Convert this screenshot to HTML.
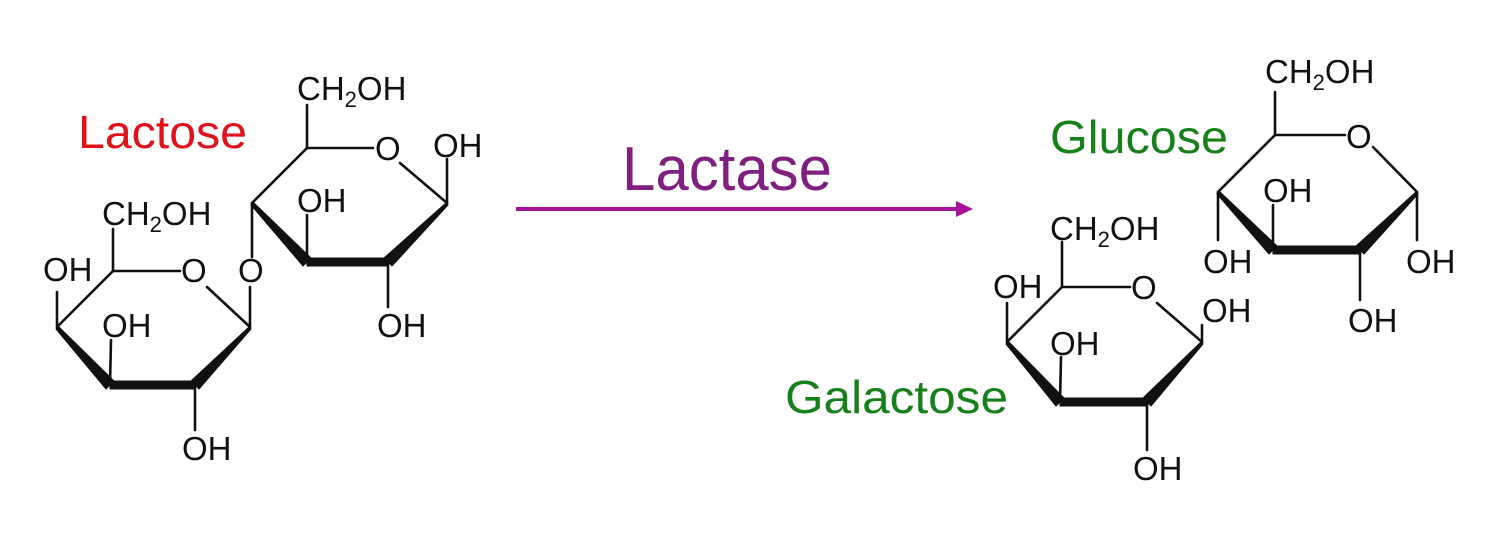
<!DOCTYPE html>
<html><head><meta charset="utf-8"><style>
html,body{margin:0;padding:0;background:#fff;}
svg{display:block;}
text{font-family:"Liberation Sans",Arial,sans-serif;}
.c{font-size:33px;fill:#111;}
</style></head><body>
<svg width="1508" height="552" viewBox="0 0 1508 552" xmlns="http://www.w3.org/2000/svg">
<g stroke="#111" stroke-width="2.6" fill="none" stroke-linecap="round">
<line x1="113" y1="271" x2="113" y2="229"/>
<line x1="113" y1="271" x2="180" y2="271"/>
<line x1="207" y1="287" x2="250" y2="327"/>
<line x1="57" y1="327" x2="113" y2="271"/>
<line x1="57" y1="327" x2="57" y2="292"/>
<line x1="110" y1="385" x2="111" y2="340"/>
<line x1="195" y1="385" x2="195" y2="430"/>
<line x1="250" y1="327" x2="250" y2="287"/>
<line x1="252" y1="257" x2="252" y2="203"/>
<line x1="252" y1="203" x2="307" y2="148"/>
<line x1="307" y1="148" x2="307" y2="105"/>
<line x1="307" y1="148" x2="373" y2="148"/>
<line x1="400" y1="163" x2="447" y2="203"/>
<line x1="447" y1="203" x2="447" y2="159"/>
<line x1="307" y1="262" x2="307" y2="215"/>
<line x1="388" y1="262" x2="388" y2="307"/>
<line x1="1275" y1="135" x2="1275" y2="92"/>
<line x1="1275" y1="135" x2="1345" y2="135"/>
<line x1="1373" y1="147" x2="1417" y2="192"/>
<line x1="1417" y1="192" x2="1417" y2="240"/>
<line x1="1218" y1="192" x2="1275" y2="135"/>
<line x1="1218" y1="192" x2="1218" y2="240"/>
<line x1="1273" y1="250" x2="1273" y2="205"/>
<line x1="1360" y1="250" x2="1360" y2="300"/>
<line x1="1062" y1="287" x2="1062" y2="242"/>
<line x1="1062" y1="287" x2="1130" y2="287"/>
<line x1="1157" y1="303" x2="1202" y2="342"/>
<line x1="1202" y1="342" x2="1202" y2="325"/>
<line x1="1007" y1="342" x2="1062" y2="287"/>
<line x1="1007" y1="342" x2="1007" y2="303"/>
<line x1="1060" y1="402" x2="1061" y2="357"/>
<line x1="1147" y1="402" x2="1147" y2="450"/>
</g>
<g fill="#111" stroke="#111" stroke-width="1" stroke-linejoin="round">
<polygon points="250,326 251,329 199,389 191,381"/>
<polygon points="195,381 195,389 110,389 110,381"/>
<polygon points="114,381 106,389 56,329 58,326"/>
<polygon points="447,202 448,205 392,266 384,258"/>
<polygon points="388,258 388,266 307,266 307,258"/>
<polygon points="311,258 303,266 251,205 253,202"/>
<polygon points="1417,191 1418,194 1364,254 1356,246"/>
<polygon points="1360,246 1360,254 1273,254 1273,246"/>
<polygon points="1277,246 1269,254 1217,194 1219,191"/>
<polygon points="1202,341 1203,344 1151,406 1143,398"/>
<polygon points="1147,398 1147,406 1060,406 1060,398"/>
<polygon points="1064,398 1056,406 1006,344 1008,341"/>
</g>
<g class="c">
<text x="102" y="225" class="c">CH<tspan font-size="22" dy="7">2</tspan><tspan dy="-7">OH</tspan></text>
<text x="181" y="282" class="c">O</text>
<text x="43" y="281" class="c">OH</text>
<text x="102" y="337" class="c">OH</text>
<text x="182" y="460" class="c">OH</text>
<text x="238" y="282" class="c">O</text>
<text x="297" y="100" class="c">CH<tspan font-size="22" dy="7">2</tspan><tspan dy="-7">OH</tspan></text>
<text x="375" y="160" class="c">O</text>
<text x="433" y="157" class="c">OH</text>
<text x="297" y="212" class="c">OH</text>
<text x="377" y="337" class="c">OH</text>
<text x="1265" y="83" class="c">CH<tspan font-size="22" dy="7">2</tspan><tspan dy="-7">OH</tspan></text>
<text x="1346" y="148" class="c">O</text>
<text x="1406" y="273" class="c">OH</text>
<text x="1203" y="273" class="c">OH</text>
<text x="1263" y="202" class="c">OH</text>
<text x="1348" y="332" class="c">OH</text>
<text x="1050" y="240" class="c">CH<tspan font-size="22" dy="7">2</tspan><tspan dy="-7">OH</tspan></text>
<text x="1131" y="299" class="c">O</text>
<text x="1202" y="322" class="c">OH</text>
<text x="993" y="298" class="c">OH</text>
<text x="1050" y="355" class="c">OH</text>
<text x="1133" y="480" class="c">OH</text>
</g>
<text x="78" y="148" font-size="46" fill="#e3101a" textLength="169" lengthAdjust="spacingAndGlyphs">Lactose</text>
<text x="1050" y="153" font-size="46" fill="#18801a" textLength="178" lengthAdjust="spacingAndGlyphs">Glucose</text>
<text x="785" y="413" font-size="46" fill="#18801a" textLength="223" lengthAdjust="spacingAndGlyphs">Galactose</text>
<text x="622" y="190" font-size="62" fill="#7f1f7f" textLength="210" lengthAdjust="spacingAndGlyphs">Lactase</text>
<line x1="516" y1="209" x2="962" y2="209" stroke="#a8129a" stroke-width="4"/>
<polygon points="956,201 973,209 956,217" fill="#a8129a"/>
</svg>
</body></html>
